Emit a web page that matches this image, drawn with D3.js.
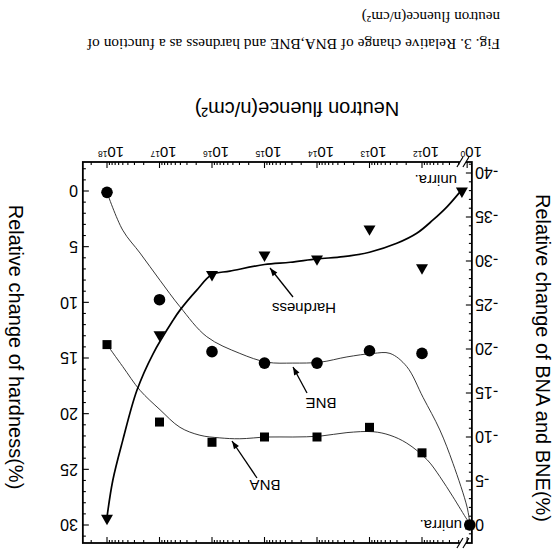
<!DOCTYPE html>
<html><head><meta charset="utf-8">
<script src="https://cdn.jsdelivr.net/npm/d3@7/dist/d3.min.js"></script>
<style>body{margin:0;background:#fff}svg{display:block}</style>
</head><body>
<svg id="c" width="555" height="554"></svg>
<script>
// ---- data ----
const fluenceExp = [12, 13, 14, 15, 16, 17, 18];           // decades with labels
const fluence    = ["unirra", 1e12, 1e13, 1e14, 1e15, 1e16, 1e17, 1e18];
const bneValues      = [0, -19.5, -19.8, -18.4, -18.4, -19.7, -25.6, -37.8];
const bnaValues      = [0, -8.2, -11.1, -10.0, -10.0, -9.4, -11.7, -20.5];
const hardnessValues = [0, 6.9, 3.4, 6.1, 5.75, 7.5, 12.9, 29.4];
// fitted curves: [log10 fluence, value]
const bneFit = [[11.09,-0.2],[11.14,-2.0],[11.41,-7.0],[11.66,-10.8],[11.98,-14.5],[12.29,-18.0],[12.61,-19.5],[12.93,-19.5],[13.43,-19.1],[13.94,-18.5],[14.46,-18.4],[14.95,-18.5],[15.47,-19.5],[16.10,-21.4],[16.61,-24.8],[16.99,-27.8],[17.37,-30.9],[17.70,-33.5],[18,-37.8]];
const bnaFit = [[11.09,-0.2],[11.14,-0.6],[11.41,-3.2],[11.66,-5.5],[11.90,-7.4],[12.29,-9.3],[12.61,-10.2],[12.93,-10.6],[13.43,-10.5],[13.94,-10.1],[14.46,-10.0],[14.95,-10.0],[15.47,-9.8],[15.85,-9.9],[16.23,-10.2],[16.61,-11.1],[16.99,-13.1],[17.37,-15.3],[17.70,-18.0],[18,-20.5]];
const hardFit = [[11.28,0.1],[11.52,1.4],[11.79,2.6],[12.10,3.8],[12.48,4.7],[13.0,5.5],[13.5,5.9],[14.0,6.1],[14.51,6.4],[15.0,6.6],[15.66,7.2],[16.0,7.5],[16.29,8.9],[16.61,10.7],[16.74,11.6],[17.12,14.6],[17.43,17.9],[17.70,22.4],[17.89,26.0],[18,29.3]];
const leftTicks  = [0, -5, -10, -15, -20, -25, -30, -35, -40];
const rightTicks = [0, 5, 10, 15, 20, 25, 30];
const zeroLabel = "0";        // label of the broken-axis tick (10^0)
const unirraPosBN = 11.09, unirraPosH = 11.24, zeroTickPos = 11.14, breakPos = 11.22;
const xMinExp = 11.05, xMaxExp = 18.46;

// ---- layout ----
const svg = d3.select("#c");
const g = svg.append("g").attr("transform", "rotate(180 277.5 277)");
const x = d3.scaleLog().domain([1e12, 1e18]).range([133, 448]);
const xe = e => x(Math.pow(10, e));
const yL = d3.scaleLinear().domain([-40, 0]).range([381, 29]);
const yR = d3.scaleLinear().domain([0, 30]).range([363, 29]);
const X0 = xe(xMinExp), X1 = xe(xMaxExp), Y0 = 11, Y1 = 392;
const SANS = "'Liberation Sans', Arial, sans-serif";
const px = (f, isH) => f === "unirra" ? xe(isH ? unirraPosH : unirraPosBN) : x(f);

// frame
g.append("rect").attr("x", X0).attr("y", Y0).attr("width", X1 - X0).attr("height", Y1 - Y0)
  .attr("fill", "none").attr("stroke", "#000").attr("stroke-width", 1.8);

const ticks = g.append("g").attr("stroke", "#000").attr("stroke-width", 1.1);
const xMajor = fluenceExp.map(e => xe(e)).concat([xe(zeroTickPos)]);
const xMinor = [];
for (let e = 11; e <= 18; e++) for (let k = 2; k <= 9; k++) {
  const v = Math.log10(k) + e;
  if (v > breakPos + 0.08 && v < xMaxExp) xMinor.push(xe(v));
}
xMajor.forEach(p => {
  ticks.append("line").attr("x1", p).attr("x2", p).attr("y1", Y1).attr("y2", Y1 - 6);
  ticks.append("line").attr("x1", p).attr("x2", p).attr("y1", Y0).attr("y2", Y0 + 6);
});
xMinor.forEach(p => {
  ticks.append("line").attr("x1", p).attr("x2", p).attr("y1", Y1).attr("y2", Y1 - 3);
  ticks.append("line").attr("x1", p).attr("x2", p).attr("y1", Y0).attr("y2", Y0 + 3);
});
d3.range(-41, 3).forEach(v => {
  const yy = yL(v); if (yy < Y0 + 1 || yy > Y1 - 1) return;
  ticks.append("line").attr("x1", X0).attr("x2", X0 + (v % 5 === 0 ? 6 : 3)).attr("y1", yy).attr("y2", yy);
});
d3.range(-3, 33).forEach(v => {
  const yy = yR(v); if (yy < Y0 + 1 || yy > Y1 - 1) return;
  ticks.append("line").attr("x1", X1).attr("x2", X1 - (v % 5 === 0 ? 6 : 3)).attr("y1", yy).attr("y2", yy);
});

// axis break marks
[Y0, Y1].forEach(yy => {
  const bx = xe(breakPos);
  g.append("rect").attr("x", bx - 3).attr("y", yy - 2).attr("width", 6).attr("height", 4).attr("fill", "#fff");
  [-3, 3].forEach(d => g.append("line").attr("x1", bx + d - 3).attr("x2", bx + d + 3)
    .attr("y1", yy + 5).attr("y2", yy - 5).attr("stroke", "#000").attr("stroke-width", 1.2));
});

// tick labels
const xl = g.append("g").attr("font-family", SANS).attr("fill", "#000");
fluenceExp.map(String).concat([zeroLabel]).forEach((lab, i) => {
  const p = i < fluenceExp.length ? xe(fluenceExp[i]) : xe(zeroTickPos);
  const t = xl.append("text").attr("x", p - 4).attr("y", 407).attr("text-anchor", "middle").attr("font-size", 15).text("10");
  t.append("tspan").attr("dy", -4).attr("font-size", 8.5).text(lab);
});
leftTicks.forEach(v => xl.append("text").attr("x", 80).attr("y", yL(v)).attr("dy", "0.36em")
  .attr("text-anchor", "end").attr("font-size", 16).text(v));
rightTicks.forEach(v => xl.append("text").attr("x", 477).attr("y", yR(v)).attr("dy", "0.36em")
  .attr("text-anchor", "start").attr("font-size", 16).text(v));

// axis titles
xl.append("text").attr("x", 258).attr("y", 452).attr("text-anchor", "middle").attr("font-size", 20)
  .text("Neutron fluence(n/cm²)");
xl.append("text").attr("transform", "translate(19,196) rotate(-90)").attr("text-anchor", "middle")
  .attr("font-size", 20).text("Relative change of BNA and BNE(%)");
xl.append("text").attr("transform", "translate(546,207) rotate(-90)").attr("text-anchor", "middle")
  .attr("font-size", 20).text("Relative change of hardness(%)");

// caption
const cap = g.append("g").attr("font-family", "'Liberation Serif','Times New Roman',serif").attr("font-size", 15);
cap.append("text").attr("x", 55).attr("y", 515).attr("textLength", 413).attr("lengthAdjust", "spacingAndGlyphs")
  .text("Fig. 3. Relative change of BNA,BNE and hardness as a function of");
cap.append("text").attr("x", 55).attr("y", 542).text("neutron fluence(n/cm²)");

// fitted curves
const lineL = d3.line().x(d => xe(d[0])).y(d => yL(d[1])).curve(d3.curveCatmullRom.alpha(0.5));
const lineR = d3.line().x(d => xe(d[0])).y(d => yR(d[1])).curve(d3.curveCatmullRom.alpha(0.5));
g.append("path").attr("d", lineL(bneFit)).attr("fill", "none").attr("stroke", "#222").attr("stroke-width", 0.9);
g.append("path").attr("d", lineL(bnaFit)).attr("fill", "none").attr("stroke", "#222").attr("stroke-width", 0.9);
g.append("path").attr("d", lineR(hardFit)).attr("fill", "none").attr("stroke", "#000").attr("stroke-width", 1.7);

// markers
fluence.forEach((f, i) => {
  g.append("rect").attr("x", px(f) - 4.5).attr("y", yL(bnaValues[i]) - 4.5).attr("width", 9).attr("height", 9).attr("fill", "#000");
});
fluence.forEach((f, i) => {
  g.append("circle").attr("cx", px(f)).attr("cy", yL(bneValues[i])).attr("r", 5.8).attr("fill", "#000");
});
const tri = d3.symbol(d3.symbolTriangle, 62);
fluence.forEach((f, i) => {
  g.append("path").attr("d", tri()).attr("transform", `translate(${px(f, true)},${yR(hardnessValues[i])})`).attr("fill", "#000");
});

// annotations
const ann = g.append("g").attr("font-family", SANS).attr("font-size", 15).attr("fill", "#000");
ann.append("text").attr("x", 251).attr("y", 251).attr("text-anchor", "middle").text("Hardness");
ann.append("text").attr("x", 234).attr("y", 156).attr("text-anchor", "middle").text("BNE");
ann.append("text").attr("x", 290).attr("y", 74).attr("text-anchor", "middle").text("BNA");
ann.append("text").attr("x", 98).attr("y", 379).text("unirra.");
ann.append("text").attr("x", 93).attr("y", 34).text("unirra.");

function arrow(x1, y1, x2, y2) {
  g.append("line").attr("x1", x1).attr("y1", y1).attr("x2", x2).attr("y2", y2).attr("stroke", "#000").attr("stroke-width", 1.3);
  const a = Math.atan2(y2 - y1, x2 - x1), L = 8, W = 3;
  const bx = x2 - L * Math.cos(a), by = y2 - L * Math.sin(a);
  const p = [[x2, y2], [bx + W * Math.sin(a), by - W * Math.cos(a)], [bx - W * Math.sin(a), by + W * Math.cos(a)]];
  g.append("path").attr("d", "M" + p.map(q => q.join(",")).join("L") + "Z").attr("fill", "#000");
}
arrow(262, 257, 285, 286);
arrow(248, 161, 262, 187);
arrow(298, 76, 323, 113);
</script>
</body></html>
